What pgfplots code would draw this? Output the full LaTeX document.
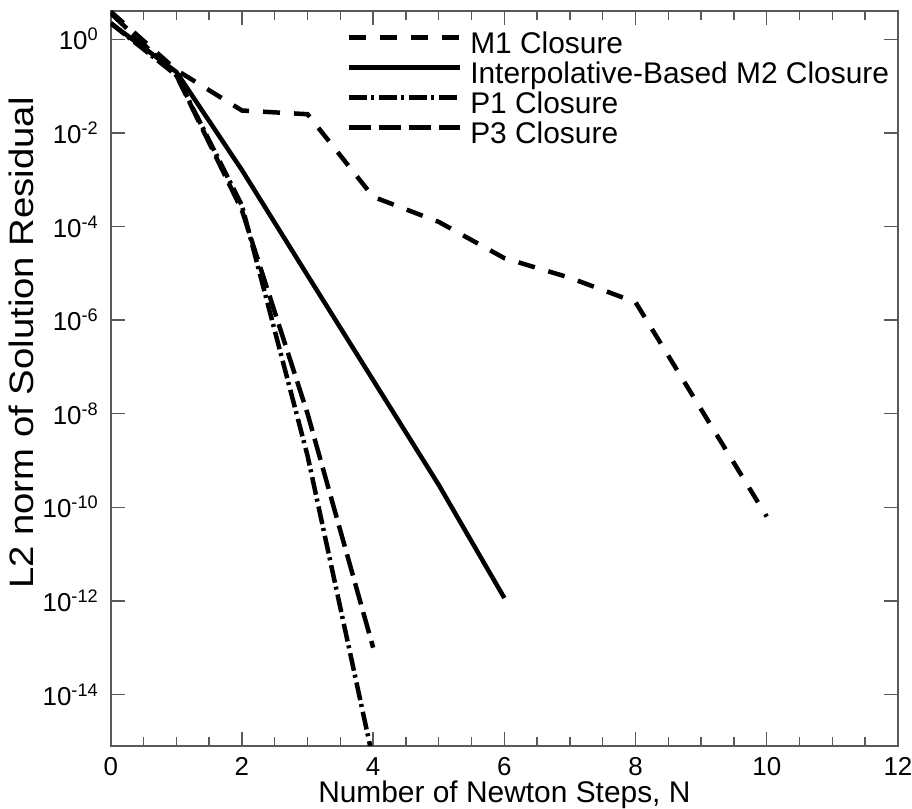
\documentclass[border=0pt]{standalone}
\usepackage{fontspec}
\setmainfont{Liberation Sans}
\usepackage{graphicx}
\usepackage{pgfplots}
\usepackage{pgfplotstable}
\pgfplotsset{compat=1.18}

% Residual history per closure: Newton step N, L2 norm of the residual
\pgfplotstableread{
N   res
0   3.9
1   0.22
2   0.030
3   0.025
4   4.3e-4
5   1.25e-4
6   2.1e-5
7   8.0e-6
8   2.4e-6
10  6.3e-11
}\mone
\pgfplotstableread{
N   res
0   2.2
1   0.20
2   1.6e-3
3   9.0e-6
4   5.2e-8
5   3.0e-10
6   1.15e-12
}\mtwo
\pgfplotstableread{
N   res
0   2.2
1   0.17
2   2.8e-4
3   1.26e-9
4   4.0e-16
}\pone
\pgfplotstableread{
N   res
0   3.6
1   0.17
2   2.2e-4
3   1.0e-8
4   1.0e-13
}\pthree

\tikzset{
  m1line/.style={line width=4.5bp, dash pattern=on 17bp off 14bp},
  m2line/.style={line width=4.5bp},
  p1line/.style={line width=4.5bp, dash pattern=on 18bp off 4bp on 3bp off 5bp},
  p3line/.style={line width=4.5bp, dash pattern=on 22bp off 8bp},
}

\begin{document}
\begin{tikzpicture}
\begin{axis}[
  name=ax,
  scale only axis,
  width=787bp, height=735bp,
  xmin=0, xmax=12,
  ymode=log, ymin=7.94e-16, ymax=4.07,
  xtick={0,2,...,12},
  minor x tick num=3,
  ytick={1,1e-2,1e-4,1e-6,1e-8,1e-10,1e-12,1e-14},
  yticklabels={10\textsuperscript{0},10\textsuperscript{-2},10\textsuperscript{-4},10\textsuperscript{-6},10\textsuperscript{-8},10\textsuperscript{-10},10\textsuperscript{-12},10\textsuperscript{-14}},
  yminorticks=false,
  major tick length=14bp, minor tick length=9bp,
  axis line style={line width=1.6bp, draw=black!65},
  every tick/.style={line width=1.4bp, draw=black!65},
  /pgf/number format/assume math mode=true,
  tick label style={font=\fontsize{26}{30}\selectfont},
  xticklabel style={yshift=-8bp},
  yticklabel style={xshift=-9bp},
  xlabel={Number of Newton Steps, N},
  ylabel={\scalebox{1.13}[1]{L2 norm of Solution Residual}},
  xlabel style={font=\fontsize{30}{34}\selectfont, yshift=2bp},
  ylabel style={font=\fontsize{34}{38}\selectfont, at={(ticklabel cs:0.548)}, yshift=2bp},
  legend cell align=left,
  legend style={
    at={(0.2998,0.9706)}, anchor=north west,
    draw=none, fill=none, inner sep=0pt, outer sep=0pt,
    row sep=0pt, column sep=8bp,
    font=\fontsize{30}{30}\selectfont,
    nodes={inner sep=0pt, text height=21bp, text depth=9bp},
  },
  legend image code/.code={\draw[#1] (0bp,10bp) -- (111bp,10bp);},
]
\addplot[m1line] table[x=N, y=res] {\mone};
\addlegendentry{M1 Closure}
\addplot[m2line] table[x=N, y=res] {\mtwo};
\addlegendentry{Interpolative-Based M2 Closure}
\addplot[p1line] table[x=N, y=res] {\pone};
\addlegendentry{P1 Closure}
\addplot[p3line] table[x=N, y=res] {\pthree};
\addlegendentry{P3 Closure}
\end{axis}
\pgfresetboundingbox
\path[use as bounding box] ([shift={(-110.7bp,-62.3bp)}]ax.south west) rectangle ([shift={(14bp,10.7bp)}]ax.north east);
\end{tikzpicture}
\end{document}
